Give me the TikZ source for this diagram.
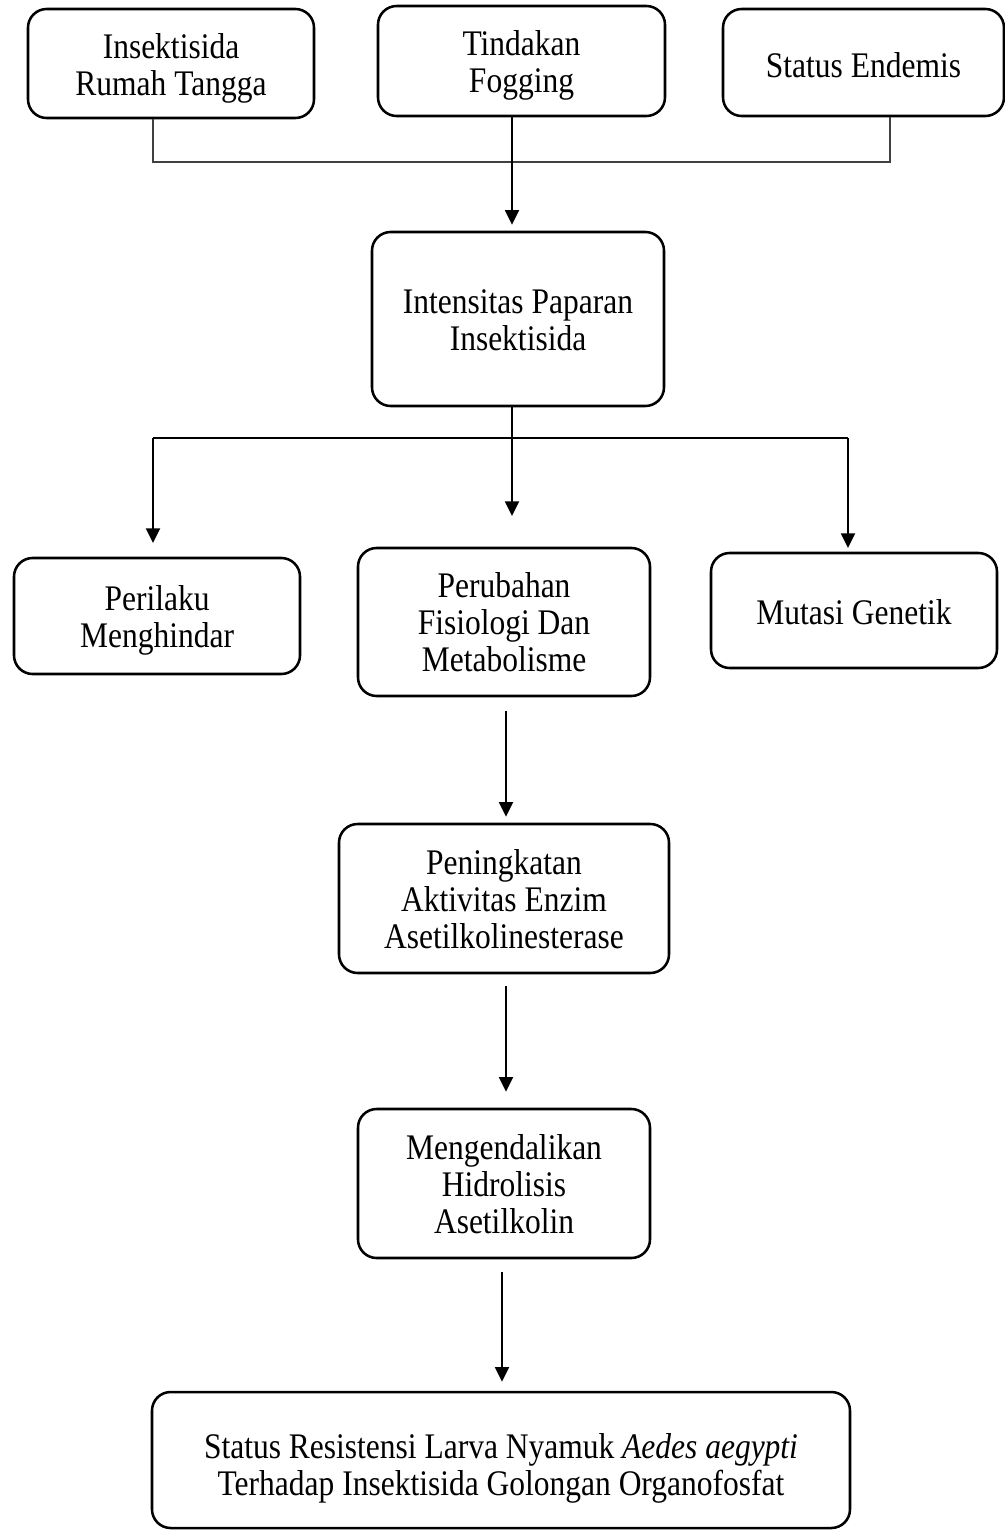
\documentclass[tikz,border=0pt]{standalone}
\usepackage{fontspec}
\setmainfont{Liberation Serif}[FakeStretch=0.875]
\usetikzlibrary{arrows.meta,calc}
\begin{document}
\begin{tikzpicture}[x=0.75pt,y=-0.75pt,
  box/.style={draw, line width=1.9pt, rounded corners=14pt, inner sep=0pt},
  txt/.style={align=center, inner sep=0pt, font=\fontsize{27}{27.75}\selectfont},
  arr/.style={line width=1.4pt, -{Triangle[length=11pt,width=10.5pt]}},
  link/.style={line width=0.9pt, draw=black!75}]
\useasboundingbox[fill=white] (0,0) rectangle (1005,1530);
% boxes
\node[box, minimum width=214.5pt, minimum height=81.75pt] (b1) at (171,63.5) {};
\node[box, minimum width=215.25pt, minimum height=82.5pt] (b2) at (521.5,61) {};
\node[box, minimum width=210.75pt, minimum height=80.25pt] (b3) at (863.5,62.5) {};
\node[box, minimum width=219pt, minimum height=130.5pt] (b4) at (518,319) {};
\node[box, minimum width=214.5pt, minimum height=87pt] (b5) at (157,616) {};
\node[box, minimum width=219pt, minimum height=111pt] (b6) at (504,622) {};
\node[box, minimum width=214.5pt, minimum height=86.25pt] (b7) at (854,610.5) {};
\node[box, minimum width=247.5pt, minimum height=111.75pt] (b8) at (504,898.5) {};
\node[box, minimum width=219pt, minimum height=111.75pt] (b9) at (504,1183.5) {};
\node[box, minimum width=523.5pt, minimum height=102pt] (b10) at (501,1460) {};
% texts
\node[txt] (b1t) at ($(b1.center)+(0,4.5)$) {Insektisida\\Rumah Tangga};
\node[txt] (b2t) at ($(b2.center)+(0,4)$) {Tindakan\\Fogging};
\node[txt] (b3t) at ($(b3.center)+(0,3)$) {Status Endemis};
\node[txt] (b4t) at ($(b4.center)+(0,1)$) {Intensitas Paparan\\Insektisida};
\node[txt] (b5t) at ($(b5.center)+(0,4)$) {Perilaku\\Menghindar};
\node[txt] (b6t) at ($(b6.center)+(0,0.5)$) {Perubahan\\Fisiologi Dan\\Metabolisme};
\node[txt] (b7t) at ($(b7.center)+(0,2)$) {Mutasi Genetik};
\node[txt] (b8t) at ($(b8.center)+(0,1)$) {Peningkatan\\Aktivitas Enzim\\Asetilkolinesterase};
\node[txt] (b9t) at ($(b9.center)+(0,1)$) {Mengendalikan\\Hidrolisis\\Asetilkolin};
\node[txt] (b10t) at ($(b10.center)+(0,8.5)$) {Status Resistensi Larva Nyamuk \textit{Aedes aegypti}\\Terhadap Insektisida Golongan Organofosfat};
% junction coordinates
\coordinate (j1) at (153,162);
\coordinate (j3) at (890,162);
\coordinate (x2) at (512,0);
\coordinate (h1) at (153,438);
\coordinate (h3) at (848,438);
\coordinate (t5) at (153,543);
\coordinate (t6) at (512,516);
\coordinate (t7) at (848,548);
\coordinate (x6) at (506,0);
\coordinate (x9) at (502,0);
% top connectors
\draw[link] (b1.south -| j1) -- (j1) -- (j3) -- (b3.south -| j3);
\draw[arr, shorten >=4.5pt] (b2.south -| x2) -- (b4.north -| x2);
% middle split
\draw[arr] (b4.south -| x2) -- (t6);
\draw[line width=1.4pt] (h1) -- (h3);
\draw[arr] (h1) -- (t5);
\draw[arr] (h3) -- (t7);
% chain
\draw[arr, shorten <=10.5pt, shorten >=4.5pt] (b6.south -| x6) -- (b8.north -| x6);
\draw[arr, shorten <=9pt, shorten >=12pt] (b8.south -| x6) -- (b9.north -| x6);
\draw[arr, shorten <=9.75pt, shorten >=6.75pt] (b9.south -| x9) -- (b10.north -| x9);
\end{tikzpicture}
\end{document}
